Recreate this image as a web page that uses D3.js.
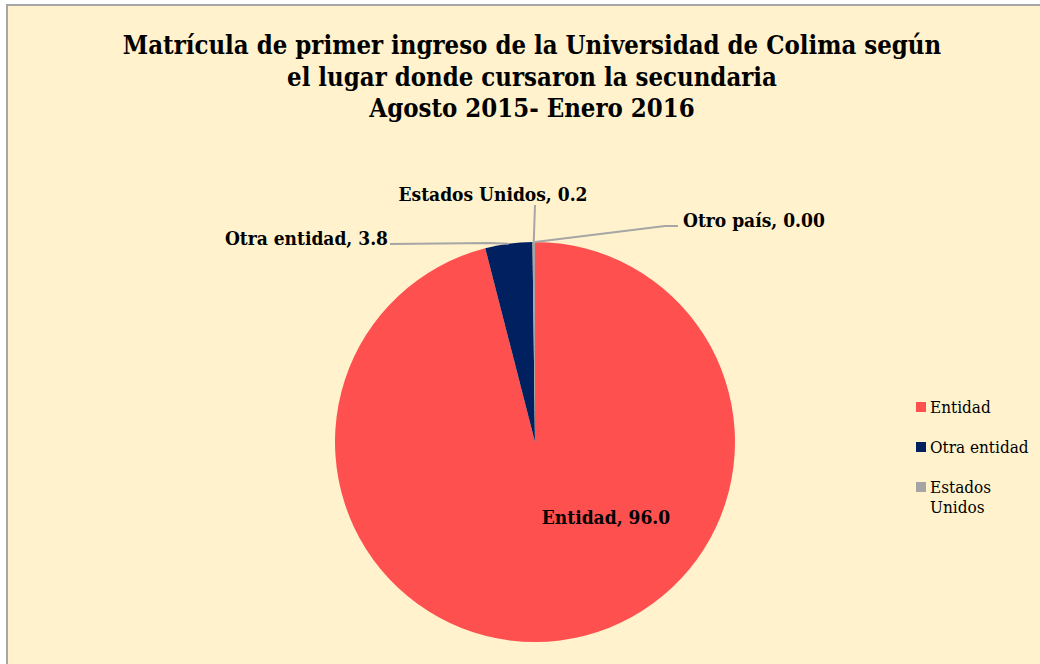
<!DOCTYPE html>
<html>
<head>
<meta charset="utf-8">
<script src="https://cdn.jsdelivr.net/npm/d3@7"></script>
<style>
  body { margin: 0; background: #fff; }
  svg { display: block; font-family: "DejaVu Serif Condensed", "DejaVu Serif", serif; }
</style>
</head>
<body>
<svg id="chart" width="1040" height="664"></svg>
<script>
// data
const categories = ["Entidad", "Otra entidad", "Estados Unidos", "Otro país"];
const values = [96.0, 3.8, 0.2, 0.0];
const valueLabels = ["96.0", "3.8", "0.2", "0.00"];
const colors = ["#FF5050", "#002060", "#A5A5A5", "#5B9BD5"];
const titleLines = [
  "Matrícula de primer ingreso de la Universidad de Colima según",
  "el lugar donde cursaron la secundaria",
  "Agosto 2015- Enero 2016"
];
const legendItems = ["Entidad", "Otra entidad", "Estados Unidos"];

const svg = d3.select("#chart");
const width = +svg.attr("width");
const height = +svg.attr("height");

// background + border
svg.append("rect")
  .attr("x", 7).attr("y", 5)
  .attr("width", width + 10).attr("height", height + 10)
  .attr("fill", "#FFF2CC")
  .attr("stroke", "#A6A6A6")
  .attr("stroke-width", 2);

// title
svg.append("g")
  .selectAll("text")
  .data(titleLines)
  .enter()
  .append("text")
  .attr("x", 532)
  .attr("y", function (d, i) { return 54 + i * 31.5; })
  .attr("text-anchor", "middle")
  .style("font-size", "25.5px")
  .style("font-weight", "bold")
  .attr("fill", "#000")
  .text(function (d) { return d; });

// pie
const cx = 535, cy = 442, radius = 200;
const pie = d3.pie().sort(null).value(function (d) { return d; });
const arcs = pie(values);
const arc = d3.arc().innerRadius(0).outerRadius(radius);

const g = svg.append("g").attr("transform", "translate(" + cx + "," + cy + ")");

g.selectAll("path")
  .data(arcs)
  .enter()
  .append("path")
  .attr("d", arc)
  .attr("fill", function (d, i) { return colors[i]; });

// labels
// label anchor for each slice, relative to pie center
const labelPos = [
  { x: 71, y: 82, anchor: "middle" },
  { x: -147, y: -197, anchor: "end" },
  { x: -42, y: -241, anchor: "middle" },
  { x: 148, y: -215, anchor: "start" }
];

function edgePoint(d) {
  const a = (d.startAngle + d.endAngle) / 2;
  return [Math.sin(a) * radius, -Math.cos(a) * radius];
}

const leaders = [
  null,
  function (d) { const p = edgePoint(d); return [[-145, -198], [-45, -199], p]; },
  function (d) { const p = edgePoint(d); return [[0, -237], [p[0], p[1]]]; },
  function (d) { const p = edgePoint(d); return [[143, -216], [130, -216], p]; }
];

arcs.forEach(function (d, i) {
  if (leaders[i]) {
    g.append("path")
      .attr("d", d3.line()(leaders[i](d)))
      .attr("fill", "none")
      .attr("stroke", "#A6A6A6")
      .attr("stroke-width", 2);
  }
});

g.selectAll("text.lbl")
  .data(arcs)
  .enter()
  .append("text")
  .attr("class", "lbl")
  .attr("x", function (d, i) { return labelPos[i].x; })
  .attr("y", function (d, i) { return labelPos[i].y; })
  .attr("text-anchor", function (d, i) { return labelPos[i].anchor; })
  .style("font-size", "19px")
  .style("font-weight", "bold")
  .attr("fill", "#000")
  .text(function (d, i) { return categories[i] + ", " + valueLabels[i]; });

// legend
const legend = svg.append("g").attr("transform", "translate(916,400)");
const item = legend.selectAll("g")
  .data(legendItems)
  .enter()
  .append("g")
  .attr("transform", function (d, i) { return "translate(0," + i * 40 + ")"; });

item.append("rect")
  .attr("width", 10).attr("height", 10)
  .attr("y", 2)
  .attr("fill", function (d, i) { return colors[i]; });

item.append("text")
  .attr("x", 14)
  .attr("y", 13)
  .style("font-size", "17px")
  .attr("fill", "#000")
  .each(function (d) {
    const words = d === "Estados Unidos" ? ["Estados", "Unidos"] : [d];
    const t = d3.select(this);
    words.forEach(function (w, j) {
      t.append("tspan").attr("x", 14).attr("dy", j === 0 ? 0 : 20).text(w);
    });
  });
</script>
</body>
</html>
